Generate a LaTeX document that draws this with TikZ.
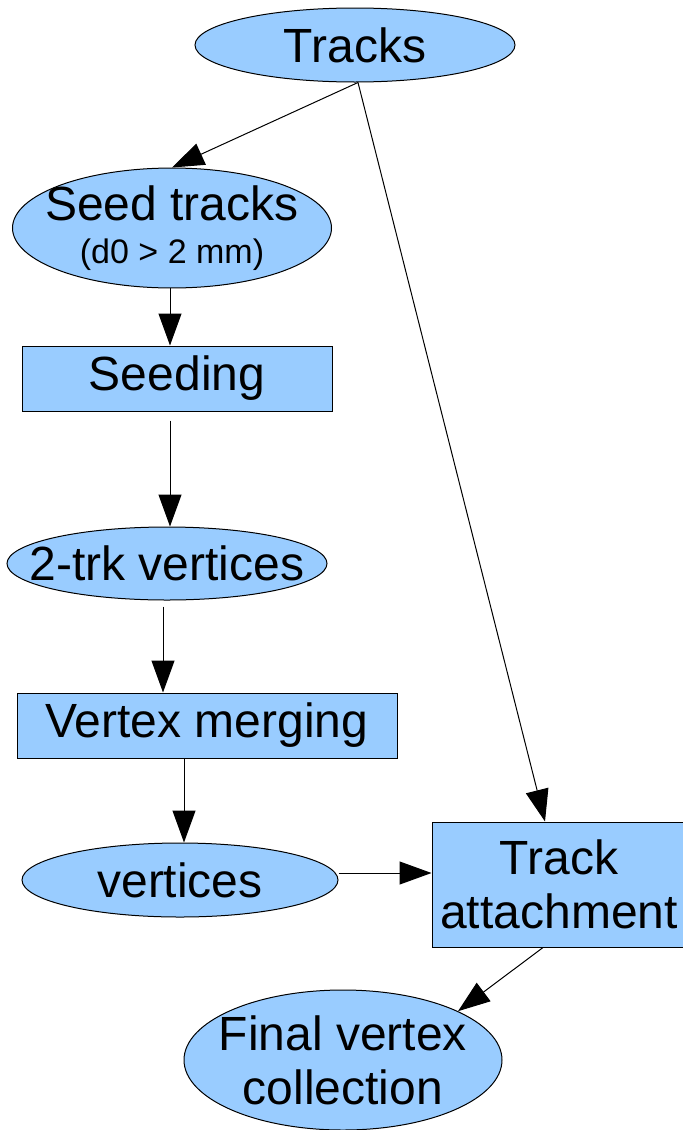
\documentclass[tikz,border=0pt]{standalone}
\usepackage{fontspec}
\setmainfont{Liberation Sans}
\usepackage{tikz}
\usetikzlibrary{arrows.meta,shapes.geometric,calc}
\definecolor{vtxblue}{RGB}{153,204,255}

\begin{document}
\begin{tikzpicture}[x=0.5pt,y=-0.5pt,
    >={Triangle[length=16pt,width=11.5pt]},
    blob/.style={ellipse,draw,fill=vtxblue,line width=0.5pt,inner xsep=-14pt,inner ysep=0pt,
        font=\fontsize{24}{27}\selectfont,align=center},
    stepbox/.style={rectangle,draw,fill=vtxblue,line width=0.5pt,inner sep=0pt,
        font=\fontsize{24}{27}\selectfont,align=center},
    flow/.style={->,line width=0.5pt}]
    \useasboundingbox[fill=white] (0,0) rectangle (683,1130);

    % left column
    \node[blob,minimum width=160pt,minimum height=37pt] (tracks) at (355,45) {Tracks};
    \node[blob,minimum width=159.5pt,minimum height=59.5pt] (seed) at (172,228)
        {Seed tracks\\[-5.5pt]{\fontsize{17}{19}\selectfont (d0 > 2 mm)}};
    \node[stepbox,minimum width=155pt,minimum height=32.5pt] (seeding) at (177,378.5) {Seeding};
    \node[blob,minimum width=160pt,minimum height=36.5pt] (twotrk) at (167,563.5) {2-trk vertices};
    \node[stepbox,minimum width=190pt,minimum height=32.5pt] (merging) at (207,725.5) {Vertex merging};
    \node[blob,minimum width=158pt,minimum height=37pt] (vertices) at (180,880) {vertices};

    % right side
    \node[stepbox,minimum width=127pt,minimum height=62.5pt] (attach) at (559,884.5) {Track\\attachment};
    \node[blob,minimum width=159pt,minimum height=70pt] (final) at (343,1060) {Final vertex\\collection};

    \draw[flow] ([xshift=1.5pt]tracks.south) -- (seed.north);
    \draw[flow] ([xshift=1.5pt]tracks.south) -- ([xshift=-7pt]attach.north);
    \draw[flow] ([xshift=-1pt]seed.south) -- ([xshift=-1pt]seed.south |- seeding.north);
    \draw[flow,shorten <=4.5pt] ([xshift=-1pt]seeding.south -| seed.south) -- ([xshift=-1pt]seed.south |- twotrk.north);
    \draw[flow,shorten <=3pt] ([xshift=-2pt]twotrk.south) -- ([xshift=-2pt]twotrk.south |- merging.north);
    \draw[flow] ([xshift=2pt]vertices.north |- merging.south) -- ([xshift=2pt]vertices.north);
    \draw[flow] ([yshift=3.5pt]vertices.east) -- ([yshift=3.5pt]vertices.east -| attach.west);
    \draw[flow] ([xshift=-8pt]attach.south) -- (final.23);
\end{tikzpicture}
\end{document}
